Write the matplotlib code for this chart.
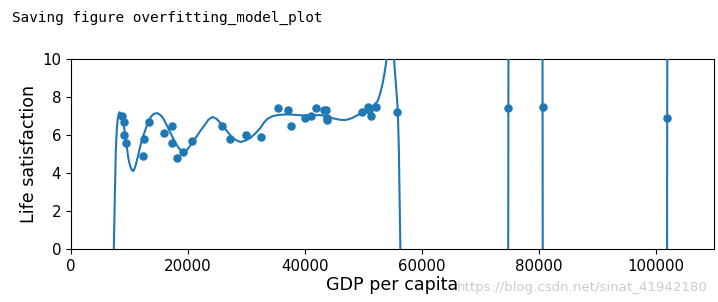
import matplotlib
matplotlib.use("Agg")
import matplotlib.pyplot as plt

# OECD sample countries: GDP per capita vs life satisfaction
gdp = [8670, 9009, 9055, 9437, 12240, 12495, 13341, 15992, 17257, 17288,
       18064, 19122, 20732, 25865, 27195, 29867, 32486, 35343, 37045, 37675,
       40107, 40997, 41974, 43332, 43603, 43724, 43771, 49866, 50855, 50962,
       51351, 52114, 55805, 74822, 80675, 101994]
life_sat = [7.0, 6.7, 6.0, 5.6, 4.9, 5.8, 6.7, 6.1, 6.5, 5.6,
            4.8, 5.1, 5.7, 6.5, 5.8, 6.0, 5.9, 7.4, 7.3, 6.5,
            6.9, 7.0, 7.4, 7.3, 7.3, 6.9, 6.8, 7.2, 7.5, 7.3,
            7.0, 7.5, 7.2, 7.4, 7.5, 6.9]

# overfitted model curve (off-chart parts clipped)
curve_x = [7000, 7324, 7500, 7667, 7820, 7976, 8150, 8319, 8450, 8577,
           8750, 8920, 9100, 9263, 9500, 9777, 10000, 10206, 10420, 10635,
           10900, 11149, 11500, 11836, 12100, 12350, 12700, 13036, 13400, 13722,
           14200, 14752, 15300, 15781, 16200, 16638, 17060, 17496, 17900, 18354,
           18800, 19211, 19800, 20412, 21000, 21613, 22200, 22814, 23500, 24186,
           24900, 25500, 26073, 26700, 27273, 28100, 28989, 29800, 30704, 31600,
           32419, 33000, 33620, 34400, 35335, 36500, 37565, 38700, 39795, 41200,
           42711, 43800, 44941, 46000, 46999, 48000, 49058, 49915, 50600, 51287,
           51900, 52488, 52900, 53346, 53600, 53860, 54050, 54250, 54546, 54889,
           55100, 55300, 55575, 55750, 55918, 56090, 56347, 56600,
           74700, 74822, 74950, 80550, 80675, 80800, 101870, 101994, 102120, 112000]
curve_y = [-30, 0.0, 2.8, 5.2, 6.2, 6.8, 7.1, 7.2, 7.15, 7.0,
           6.85, 6.6, 6.35, 6.1, 5.5, 4.85, 4.5, 4.3, 4.15, 4.1,
           4.25, 4.5, 4.95, 5.4, 5.7, 5.95, 6.25, 6.55, 6.8, 6.98,
           7.12, 7.15, 7.05, 6.88, 6.62, 6.35, 6.08, 5.82, 5.57, 5.35,
           5.18, 5.1, 5.2, 5.45, 5.7, 5.98, 6.25, 6.5, 6.8, 6.95,
           6.85, 6.65, 6.45, 6.2, 5.98, 5.75, 5.63, 5.7, 5.85, 6.1,
           6.38, 6.65, 6.85, 6.98, 7.05, 7.08, 7.08, 7.05, 7.03, 7.04,
           7.05, 6.97, 6.87, 6.8, 6.79, 6.88, 7.05, 7.2, 7.32, 7.45,
           7.6, 7.8, 8.2, 8.75, 9.2, 9.7, 10.2, 10.8, 11.5, 11.5,
           10.8, 9.8, 8.7, 8.0, 7.2, 5.2, 0.0, -30,
           -30, 7.4, 30, 30, 7.5, -30, -30, 6.9, 30, 30]

fig = plt.figure(figsize=(7.18, 3.02), dpi=100)
ax = fig.add_axes([71 / 718, 53 / 302, 643 / 718, 190 / 302])

ax.scatter(gdp, life_sat, s=26, color="C0", zorder=2)
ax.plot(curve_x, curve_y, color="C0", linewidth=1.5, zorder=3)

ax.axis([0, 110000, 0, 10])
ax.set_xticks([0, 20000, 40000, 60000, 80000, 100000])
ax.set_yticks([0, 2, 4, 6, 8, 10])
ax.tick_params(labelsize=10.8)
ax.set_xlabel("GDP per capita", fontsize=12.6, labelpad=2)
ax.set_ylabel("Life satisfaction", fontsize=12.6, labelpad=3)

fig.text(12 / 718, 1 - 18 / 302, "Saving figure overfitting_model_plot",
         family="DejaVu Sans Mono", fontsize=10.4, va="center", ha="left")
fig.text(708 / 718, 1 - 287 / 302, "https://blog.csdn.net/sinat_41942180",
         fontsize=9.6, color="#cccccc", va="center", ha="right",
         family="Liberation Sans Narrow")

fig.savefig("out.png", dpi=100)
